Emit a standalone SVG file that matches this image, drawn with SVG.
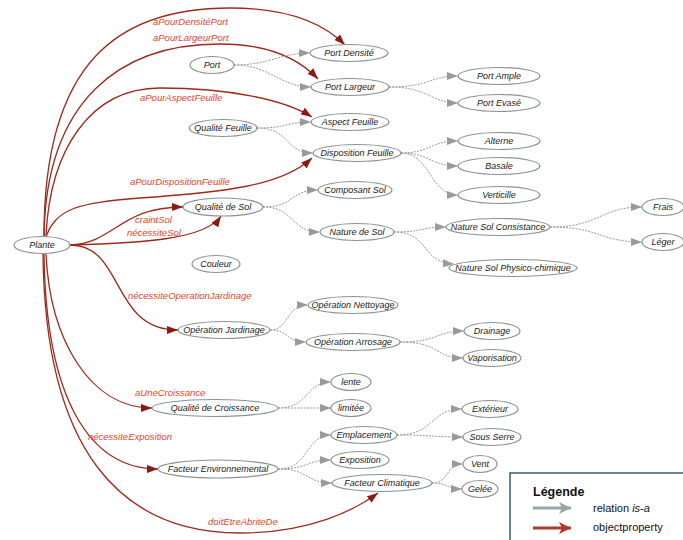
<svg xmlns="http://www.w3.org/2000/svg" width="683" height="540" viewBox="0 0 683 540">
<style>
.n ellipse{fill:#fff;stroke:#8a9393;stroke-width:1.2}
.n text{font-family:"Liberation Sans",Arial,sans-serif;font-style:italic;font-size:9px;fill:#1a1a1a;text-anchor:middle;dominant-baseline:central}
.isa{fill:none;stroke:#9a9a9a;stroke-width:1;stroke-dasharray:2,1.2;marker-end:url(#ga)}
.op{fill:none;stroke:#9e2a1e;stroke-width:1.3;marker-end:url(#ra)}
.lbl{font-family:"Liberation Sans",Arial,sans-serif;font-style:italic;font-size:9.5px;fill:#e2452c}
.lg{font-family:"Liberation Sans",Arial,sans-serif;font-size:11px;fill:#111}
</style>
<defs>
<marker id="ga" markerUnits="userSpaceOnUse" markerWidth="11" markerHeight="8" refX="11" refY="4" orient="auto"><path d="M0,0 L11,4 L0,8 z" fill="#9a9a9a"/></marker>
<marker id="ra" markerUnits="userSpaceOnUse" markerWidth="11" markerHeight="8" refX="11" refY="4" orient="auto"><path d="M0,0 L11,4 L0,8 z" fill="#8b1a12"/></marker>
<marker id="lga" markerUnits="userSpaceOnUse" markerWidth="12" markerHeight="12" refX="12" refY="6" orient="auto"><path d="M0,0 L12,6 L0,12 L3,6 z" fill="#9aa5a5"/></marker>
<marker id="lra" markerUnits="userSpaceOnUse" markerWidth="12" markerHeight="12" refX="12" refY="6" orient="auto"><path d="M0,0 L12,6 L0,12 L3,6 z" fill="#b03a2e"/></marker>
</defs>
<rect width="683" height="540" fill="#fff"/>
<g id="connectors">
<!-- object properties -->
<path class="op" d="M44,236 C44,60 120,8 230,8 C290,8 325,25 345,45"/>
<path class="op" d="M44,236 C46,100 120,44 220,44 C270,44 300,60 318,79"/>
<path class="op" d="M46,236 C50,150 90,88 160,88 C230,88 285,100 312,117"/>
<path class="op" d="M45,240 C55,207 80,203 140,198 C225,192 282,186 312,158"/>
<path class="op" d="M70,245 C115,243 120,207 183,207"/>
<path class="op" d="M70,245 C140,243 205,240 221,216"/>
<path class="op" d="M70,245 C125,245 110,330 178,330"/>
<path class="op" d="M46,254 C50,340 90,408 152,408"/>
<path class="op" d="M44,254 C46,400 90,469 158,469"/>
<path class="op" d="M43,254 C45,450 120,533 240,533 C310,533 355,510 378,493"/>
<!-- is-a -->
<path class="isa" d="M234,65 C270,65 280,53 310,53"/>
<path class="isa" d="M234,65 C270,65 280,87 311,87"/>
<path class="isa" d="M389,87 C430,87 430,76 458,76"/>
<path class="isa" d="M389,87 C430,87 430,103 458,103"/>
<path class="isa" d="M257,128 C290,128 285,122 311,122"/>
<path class="isa" d="M257,128 C290,128 285,153 313,153"/>
<path class="isa" d="M401,153 C430,153 430,141 458,141"/>
<path class="isa" d="M401,153 C430,153 430,166 458,166"/>
<path class="isa" d="M401,153 C430,153 430,195 458,195"/>
<path class="isa" d="M263,207 C295,207 290,190 318,190"/>
<path class="isa" d="M263,207 C295,207 290,232 320,232"/>
<path class="isa" d="M394,232 C425,232 420,227 446,227"/>
<path class="isa" d="M394,232 C430,232 420,262 454,264"/>
<path class="isa" d="M550,227 C600,227 600,207 642,207"/>
<path class="isa" d="M550,227 C600,227 600,242 642,242"/>
<path class="isa" d="M270,330 C290,330 285,305 308,305"/>
<path class="isa" d="M270,330 C290,330 285,342 306,342"/>
<path class="isa" d="M400,342 C440,342 435,331 464,331"/>
<path class="isa" d="M400,342 C440,342 435,358 463,358"/>
<path class="isa" d="M278,408 C310,408 305,382 331,382"/>
<path class="isa" d="M278,408 C310,408 305,408 331,408"/>
<path class="isa" d="M278,469 C310,469 305,435 331,435"/>
<path class="isa" d="M278,469 C310,469 305,460 331,460"/>
<path class="isa" d="M278,469 C310,469 305,483 332,483"/>
<path class="isa" d="M397,435 C435,435 430,409 462,409"/>
<path class="isa" d="M397,435 C435,435 430,437 463,437"/>
<path class="isa" d="M432,483 C450,483 445,464 463,464"/>
<path class="isa" d="M432,483 C450,483 445,489 462,489"/>
<!-- labels -->
<text class="lbl" x="153" y="25">aPourDensitéPort</text>
<text class="lbl" x="153" y="41">aPourLargeurPort</text>
<text class="lbl" x="140" y="101">aPourAspectFeuille</text>
<text class="lbl" x="130" y="185">aPourDispositionFeuille</text>
<text class="lbl" x="135" y="223">craintSol</text>
<text class="lbl" x="127" y="236">nécessiteSol</text>
<text class="lbl" x="128" y="299">nécessiteOperationJardinage</text>
<text class="lbl" x="135" y="396">aUneCroissance</text>
<text class="lbl" x="88" y="440">nécessiteExposition</text>
<text class="lbl" x="208" y="525">doitEtreAbriteDe</text>
</g>
<g id="plante" class="n"><ellipse cx="42" cy="245" rx="28" ry="8.5"/><text x="42" y="245">Plante</text></g>
<g id="port" class="n"><ellipse cx="212" cy="65" rx="22" ry="8.5"/><text x="212" y="65">Port</text></g>
<g id="port-densite" class="n"><ellipse cx="349" cy="53" rx="39" ry="8.5"/><text x="349" y="53">Port Densité</text></g>
<g id="port-largeur" class="n"><ellipse cx="350" cy="87" rx="39" ry="8.5"/><text x="350" y="87">Port Largeur</text></g>
<g id="port-ample" class="n"><ellipse cx="499" cy="76" rx="41" ry="8.5"/><text x="499" y="76">Port Ample</text></g>
<g id="port-evase" class="n"><ellipse cx="499" cy="103" rx="41" ry="8.5"/><text x="499" y="103">Port Evasé</text></g>
<g id="qualite-feuille" class="n"><ellipse cx="223" cy="128" rx="34" ry="8.5"/><text x="223" y="128">Qualité Feuille</text></g>
<g id="aspect-feuille" class="n"><ellipse cx="350" cy="122" rx="39" ry="8.5"/><text x="350" y="122">Aspect Feuille</text></g>
<g id="disposition-feuille" class="n"><ellipse cx="357" cy="153" rx="44" ry="8.5"/><text x="357" y="153">Disposition Feuille</text></g>
<g id="alterne" class="n"><ellipse cx="499" cy="141" rx="41" ry="8.5"/><text x="499" y="141">Alterne</text></g>
<g id="basale" class="n"><ellipse cx="499" cy="166" rx="41" ry="8.5"/><text x="499" y="166">Basale</text></g>
<g id="verticille" class="n"><ellipse cx="499" cy="195" rx="41" ry="8.5"/><text x="499" y="195">Verticille</text></g>
<g id="qualite-sol" class="n"><ellipse cx="223" cy="207" rx="40" ry="9"/><text x="223" y="207">Qualité de Sol</text></g>
<g id="composant-sol" class="n"><ellipse cx="355" cy="190" rx="37" ry="8.5"/><text x="355" y="190">Composant Sol</text></g>
<g id="nature-sol" class="n"><ellipse cx="357" cy="232" rx="37" ry="8.5"/><text x="357" y="232">Nature de Sol</text></g>
<g id="nature-sol-consistance" class="n"><ellipse cx="498" cy="227" rx="52" ry="8.5"/><text x="498" y="227">Nature Sol Consistance</text></g>
<g id="nature-sol-physico" class="n"><ellipse cx="513" cy="268" rx="64" ry="8.5"/><text x="513" y="268">Nature Sol Physico-chimique</text></g>
<g id="frais" class="n"><ellipse cx="663" cy="207" rx="21" ry="8.5"/><text x="663" y="207">Frais</text></g>
<g id="leger" class="n"><ellipse cx="663" cy="242" rx="21" ry="8.5"/><text x="663" y="242">Léger</text></g>
<g id="couleur" class="n"><ellipse cx="216" cy="264" rx="24" ry="8.5"/><text x="216" y="264">Couleur</text></g>
<g id="operation-jardinage" class="n"><ellipse cx="224" cy="330" rx="46" ry="8.5"/><text x="224" y="330">Opération Jardinage</text></g>
<g id="operation-nettoyage" class="n"><ellipse cx="353" cy="305" rx="45" ry="8.5"/><text x="353" y="305">Opération Nettoyage</text></g>
<g id="operation-arrosage" class="n"><ellipse cx="353" cy="342" rx="47" ry="8.5"/><text x="353" y="342">Opération Arrosage</text></g>
<g id="drainage" class="n"><ellipse cx="492" cy="331" rx="28" ry="8.5"/><text x="492" y="331">Drainage</text></g>
<g id="vaporisation" class="n"><ellipse cx="492" cy="358" rx="29" ry="8.5"/><text x="492" y="358">Vaporisation</text></g>
<g id="qualite-croissance" class="n"><ellipse cx="215" cy="408" rx="63" ry="8.5"/><text x="215" y="408">Qualité de Croissance</text></g>
<g id="lente" class="n"><ellipse cx="351" cy="382" rx="20" ry="8.5"/><text x="351" y="382">lente</text></g>
<g id="limitee" class="n"><ellipse cx="351" cy="408" rx="20" ry="8.5"/><text x="351" y="408">limitée</text></g>
<g id="facteur-env" class="n"><ellipse cx="218" cy="469" rx="60" ry="9"/><text x="218" y="469">Facteur Environnemental</text></g>
<g id="emplacement" class="n"><ellipse cx="364" cy="435" rx="33" ry="8.5"/><text x="364" y="435">Emplacement</text></g>
<g id="exposition" class="n"><ellipse cx="360" cy="460" rx="29" ry="8.5"/><text x="360" y="460">Exposition</text></g>
<g id="facteur-climatique" class="n"><ellipse cx="382" cy="483" rx="50" ry="8.5"/><text x="382" y="483">Facteur Climatique</text></g>
<g id="exterieur" class="n"><ellipse cx="490" cy="409" rx="28" ry="8.5"/><text x="490" y="409">Extérieur</text></g>
<g id="sous-serre" class="n"><ellipse cx="492" cy="437" rx="29" ry="8.5"/><text x="492" y="437">Sous Serre</text></g>
<g id="vent" class="n"><ellipse cx="480" cy="464" rx="17" ry="8.5"/><text x="480" y="464">Vent</text></g>
<g id="gelee" class="n"><ellipse cx="480" cy="489" rx="18" ry="8.5"/><text x="480" y="489">Gelée</text></g>
<g id="legend">
<rect x="510" y="473" width="180" height="72" fill="#fff" stroke="#3d5a78" stroke-width="1.5"/>
<text x="533" y="496" font-family="Liberation Sans,Arial,sans-serif" font-weight="bold" font-size="12.5px" fill="#111">Légende</text>
<line x1="533" y1="508" x2="571" y2="508" stroke="#9aa5a5" stroke-width="3" marker-end="url(#lga)"/>
<text class="lg" x="593" y="512">relation <tspan font-style="italic">is</tspan>-<tspan font-style="italic">a</tspan></text>
<line x1="533" y1="528" x2="571" y2="528" stroke="#b03a2e" stroke-width="3" marker-end="url(#lra)"/>
<text class="lg" x="593" y="531">objectproperty</text>
</g>
</svg>
